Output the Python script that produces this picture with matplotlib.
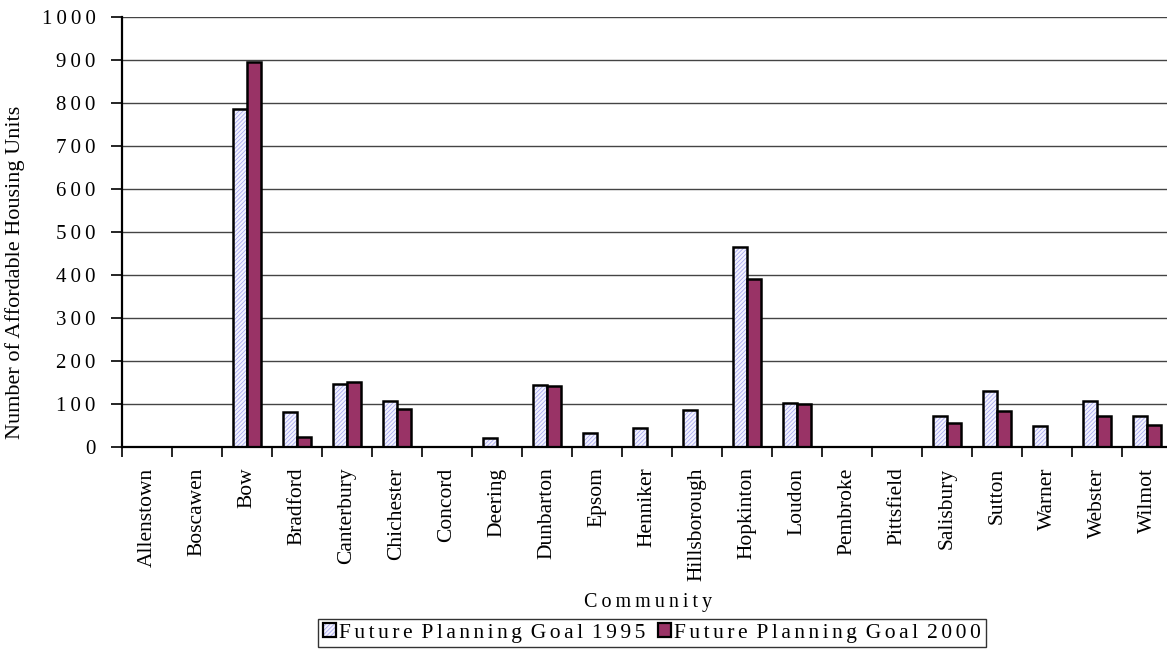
import matplotlib
matplotlib.use("Agg")
import matplotlib.pyplot as plt
import numpy as np
from matplotlib.patches import Patch

communities = ["Allenstown", "Boscawen", "Bow", "Bradford", "Canterbury",
               "Chichester", "Concord", "Deering", "Dunbarton", "Epsom",
               "Henniker", "Hillsborough", "Hopkinton", "Loudon", "Pembroke",
               "Pittsfield", "Salisbury", "Sutton", "Warner", "Webster", "Wilmot"]
goal_1995 = [0, 0, 785, 80, 145, 106, 0, 20, 144, 31, 44, 85, 465, 102,
             0, 0, 71, 130, 49, 107, 72]
goal_2000 = [0, 0, 895, 23, 150, 87, 0, 0, 141, 0, 0, 0, 390, 100,
             0, 0, 54, 83, 0, 71, 50]
y_ticks = [0, 100, 200, 300, 400, 500, 600, 700, 800, 900, 1000]
series_names = ["Future Planning Goal 1995", "Future Planning Goal 2000"]

plt.rcParams["font.family"] = ["Liberation Serif", "DejaVu Serif"]
plt.rcParams["hatch.linewidth"] = 0.6

THIN = "\u2009"
HAIR = "\u200a"


def spaced(text, gap=THIN, word_gap="  "):
    """Letter-spaced version of a string."""
    return word_gap.join(gap.join(list(w)) for w in text.split(" "))


W, H = 1167, 650
fig = plt.figure(figsize=(W / 100, H / 100), dpi=100)
ax = fig.add_axes([122 / W, (H - 446.7) / H, 1050 / W, 429.7 / H])

n = len(communities)
centers = np.arange(n) + 0.5
bw = 1 / 3.5

hatch_face = "#f4f4ff"
hatch_col = "#a8a8f0"
plum = "#993366"

# 1995 goals: hatched fill, then black outline on top
ax.bar(centers - bw / 2, goal_1995, bw, color=hatch_face, edgecolor=hatch_col,
       hatch="////////", linewidth=0, zorder=3)
ax.bar(centers - bw / 2, goal_1995, bw, fill=False, edgecolor="black",
       linewidth=1.8, zorder=4)
# 2000 goals
ax.bar(centers + bw / 2, goal_2000, bw, color=plum, edgecolor="black",
       linewidth=1.8, zorder=4)

ax.set_xlim(0, n)
ax.set_ylim(0, 1000)

ax.set_yticks(y_ticks)
ax.set_yticklabels([spaced(str(v)) for v in y_ticks], fontsize=15)
ax.tick_params(axis="y", direction="out", length=8, width=1.2, pad=11)
ax.yaxis.grid(True, color="#444444", linewidth=1.0, zorder=1)
ax.set_axisbelow(True)

ax.set_xticks(centers)
ax.set_xticklabels(communities, rotation=90, fontsize=15.5, va="top", ha="center")
ax.set_xticks(np.arange(n + 1), minor=True)
ax.tick_params(axis="x", which="major", length=0, pad=15)
ax.tick_params(axis="x", which="minor", direction="out", length=7, width=1.2)

for side in ("top", "right"):
    ax.spines[side].set_visible(False)
for side in ("left", "bottom"):
    ax.spines[side].set_linewidth(1.6)
    ax.spines[side].set_zorder(5)

fig.text(15 / W, 1 - 272 / H, "Number of Affordable Housing Units",
         rotation=90, ha="center", va="center", fontsize=16)
fig.text(648 / W, 1 - 602 / H, spaced("Community"), ha="center", va="center",
         fontsize=14.5)

h1995 = (Patch(facecolor=hatch_face, edgecolor=hatch_col, hatch="////////", linewidth=0),
         Patch(fill=False, edgecolor="black", linewidth=1.6))
h2000 = Patch(facecolor=plum, edgecolor="black", linewidth=1.6)
leg = fig.legend([h1995, h2000], [spaced(s, HAIR + HAIR, " " + HAIR * 2) for s in series_names],
                 loc="upper center", bbox_to_anchor=(652 / W, 1 - 619 / H),
                 ncol=2, fontsize=15.5, frameon=True, fancybox=False,
                 edgecolor="black", handlelength=0.6, handleheight=0.6,
                 handletextpad=0.15, columnspacing=0.6, borderpad=0.2,
                 borderaxespad=0)
leg.get_frame().set_linewidth(1.0)

fig.savefig("out.png", dpi=100)
